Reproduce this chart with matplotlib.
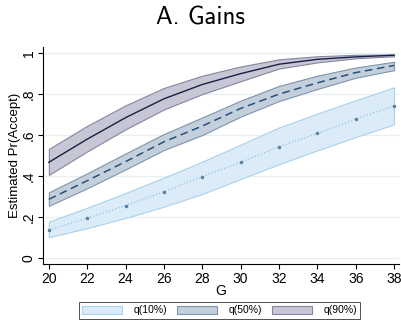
import numpy as np
import matplotlib
matplotlib.use("Agg")
import matplotlib.pyplot as plt
from matplotlib.patches import Patch

plt.rcParams['font.family'] = ['Liberation Sans', 'DejaVu Sans']
plt.rcParams['axes.unicode_minus'] = False

# Datos
G = [20, 22, 24, 26, 28, 30, 32, 34, 36, 38]

q10 = [0.137, 0.194, 0.255, 0.323, 0.397, 0.467, 0.543, 0.608, 0.678, 0.743]
q10_lo = [0.101, 0.145, 0.195, 0.250, 0.312, 0.385, 0.457, 0.525, 0.590, 0.652]
q10_hi = [0.177, 0.245, 0.317, 0.392, 0.470, 0.553, 0.637, 0.705, 0.770, 0.833]

q50 = [0.286, 0.377, 0.470, 0.567, 0.644, 0.730, 0.800, 0.855, 0.905, 0.940]
q50_lo = [0.254, 0.340, 0.432, 0.527, 0.600, 0.690, 0.766, 0.825, 0.880, 0.917]
q50_hi = [0.320, 0.413, 0.510, 0.605, 0.686, 0.768, 0.840, 0.890, 0.930, 0.958]

q90 = [0.467, 0.580, 0.685, 0.777, 0.847, 0.900, 0.946, 0.970, 0.982, 0.990]
q90_lo = [0.405, 0.520, 0.628, 0.725, 0.800, 0.863, 0.925, 0.955, 0.975, 0.985]
q90_hi = [0.532, 0.645, 0.745, 0.830, 0.890, 0.935, 0.970, 0.985, 0.992, 0.994]

etiquetas = ["q(10%)", "q(50%)", "q(90%)"]
yticks = [0, 0.2, 0.4, 0.6, 0.8, 1.0]
ytick_labels = ["0", ".2", ".4", ".6", ".8", "1"]

fig = plt.figure(figsize=(4.01, 3.2), dpi=100)
ax = fig.add_axes([0.107, 0.175, 0.888, 0.678])

# Bandas
ax.fill_between(G, q10_lo, q10_hi, facecolor="#dbebf7", edgecolor="#a9d2ec", linewidth=0.8, zorder=1)
ax.fill_between(G, q50_lo, q50_hi, facecolor="#c3cfdb", edgecolor="#7e95ad", linewidth=0.8, zorder=2)
ax.fill_between(G, q90_lo, q90_hi, facecolor="#c6c6d4", edgecolor="#85859f", linewidth=0.8, zorder=3)

# Lineas
ax.plot(G, q10, linestyle=":", color="#8fc3e0", linewidth=0.9, marker="o", markersize=1.5,
        markerfacecolor="#5b7f9c", markeredgecolor="#5b7f9c", zorder=4)
ax.plot(G, q50, linestyle=(0, (5, 3)), color="#27507c", linewidth=1.1, zorder=4)
ax.plot(G, q90, linestyle="-", color="#1c1f45", linewidth=1.0, zorder=4)

ax.set_xlim(19.69, 38.26)
ax.set_ylim(-0.03, 1.03)
ax.set_xticks(G)
ax.set_yticks(yticks)
ax.tick_params(axis="both", labelsize=10, direction="out", length=3.6, width=0.8, pad=2)
ax.tick_params(axis="y", pad=1.5)
ax.set_yticklabels(ytick_labels, rotation=90, va="center")
ax.grid(axis="y", color="#e6f0f2", linewidth=0.9, zorder=0)
ax.set_axisbelow(True)
for s in ["top", "right"]:
    ax.spines[s].set_visible(False)
for s in ["left", "bottom"]:
    ax.spines[s].set_linewidth(0.8)

ax.set_xlabel("G", fontsize=10, labelpad=-1)
ax.set_ylabel("Estimated Pr(Accept)", fontsize=9.5)
ax.yaxis.set_label_coords(-0.062, 0.5)
fig.text(0.5, 0.945, "A. Gains", ha="center", va="center", fontsize=18, family="cmss10")

handles = [
    Patch(facecolor="#dbebf7", edgecolor="#a9d2ec", linewidth=0.8),
    Patch(facecolor="#c3cfdb", edgecolor="#7e95ad", linewidth=0.8),
    Patch(facecolor="#c6c6d4", edgecolor="#85859f", linewidth=0.8),
]
leg = fig.legend(handles, etiquetas, loc="center", bbox_to_anchor=(0.548, 0.03), ncol=3,
                 fontsize=7.5, frameon=True, fancybox=False, edgecolor="black",
                 handlelength=3.8, handleheight=0.75, columnspacing=1.0, borderpad=0.3,
                 handletextpad=1.1)
leg.get_frame().set_linewidth(0.6)

plt.savefig("out.png", dpi=100)
